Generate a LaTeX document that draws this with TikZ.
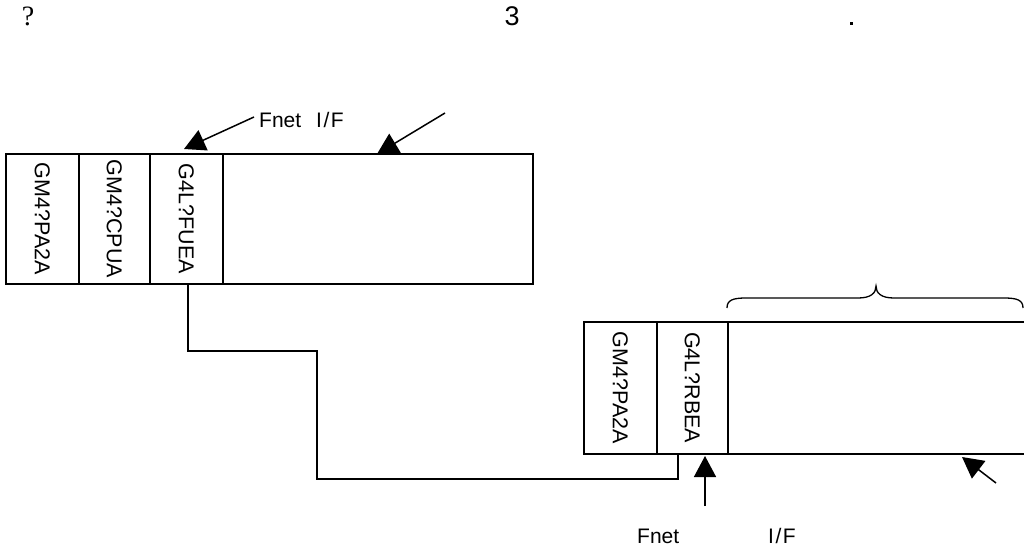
\documentclass[tikz,border=0pt]{standalone}
\usepackage{fontspec}
\setmainfont{Liberation Sans}
\newfontfamily\serifgly{Liberation Serif}
\usetikzlibrary{arrows.meta}
\begin{document}
\begin{tikzpicture}[x=1pt,y=-1pt,
  cell/.style={draw,line width=1.5pt,inner sep=0pt,anchor=north west,minimum height=#1},
  cell/.default=130pt,
  lbl/.style={rotate=-90,font=\fontsize{21.5}{23}\selectfont,inner sep=0pt},
  wire/.style={line width=1.3pt},
  fat/.style={line width=1.5pt,-{Triangle[length=21pt,width=22pt]}},
  txt/.style={font=\fontsize{21}{23}\selectfont,inner sep=0pt,anchor=base west}]
\useasboundingbox (0,0) rectangle (1024,550);
\clip (0,0) rectangle (1024,550);
% top texts
\node[font=\serifgly\fontsize{28}{30}\selectfont,inner sep=0pt] (q) at (28,16) {?};
\node[font=\fontsize{27}{29}\selectfont,inner sep=0pt] (three) at (512,16) {3};
\fill (849.5,21.5) rectangle (852.5,24.5);
% top rack
\node[cell,minimum width=73pt] (a1) at (5,153) {};
\node[cell,minimum width=71pt] (a2) at (78,153) {};
\node[cell,minimum width=73pt] (a3) at (149,153) {};
\node[cell,minimum width=310pt] (a4) at (222,153) {};
\node[lbl] at (a1.center) {GM4?PA2A};
\node[lbl] at (a2.center) {GM4?CPUA};
\node[lbl] at (a3.center) {G4L?FUEA};
% lower rack
\node[cell=132pt,minimum width=73pt] (b1) at (583,321) {};
\node[cell=132pt,minimum width=71pt] (b2) at (656,321) {};
\node[cell=132pt,minimum width=320pt] (b3) at (727,321) {};
\node[lbl] at (b1.center) {GM4?PA2A};
\node[lbl] at (b2.center) {G4L?RBEA};
% connector
\coordinate (c1) at (188,283);
\coordinate (c2) at (678,453);
\draw[wire] (c1) -- (188,351) -- (317,351) -- (317,479) -- (678,479) -- (c2);
% top annotations
\node[txt] (fnet1) at (259,127) {Fnet\hspace{15pt}I\kern1.5pt/\kern1.5pt F};
\coordinate (t1s) at (254,117);
\coordinate (t1e) at (184,149);
\draw[fat] (t1s) -- (t1e);
\coordinate (t2s) at (445,113);
\coordinate (t2e) at (377,154);
\draw[fat] (t2s) -- (t2e);
% lower annotations
\coordinate (u1s) at (705,506);
\coordinate (u1e) at (705,456);
\draw[fat] (u1s) -- (u1e);
\coordinate (u2s) at (996,483);
\coordinate (u2e) at (962,457);
\draw[fat] (u2s) -- (u2e);
\node[txt] (fnet2) at (637,543) {Fnet};
\node[txt] (if2) at (768,543) {I\kern1.5pt/\kern1.5pt F};
% brace
\draw[line width=1.3pt] (727,308) .. controls (727,300) and (733,298) .. (746,298)
  -- (858,298) .. controls (871,298) and (876,293) .. (876,286)
  .. controls (876,293) and (881,298) .. (894,298)
  -- (1004,298) .. controls (1017,298) and (1023,300) .. (1023,308);
\end{tikzpicture}
\end{document}
